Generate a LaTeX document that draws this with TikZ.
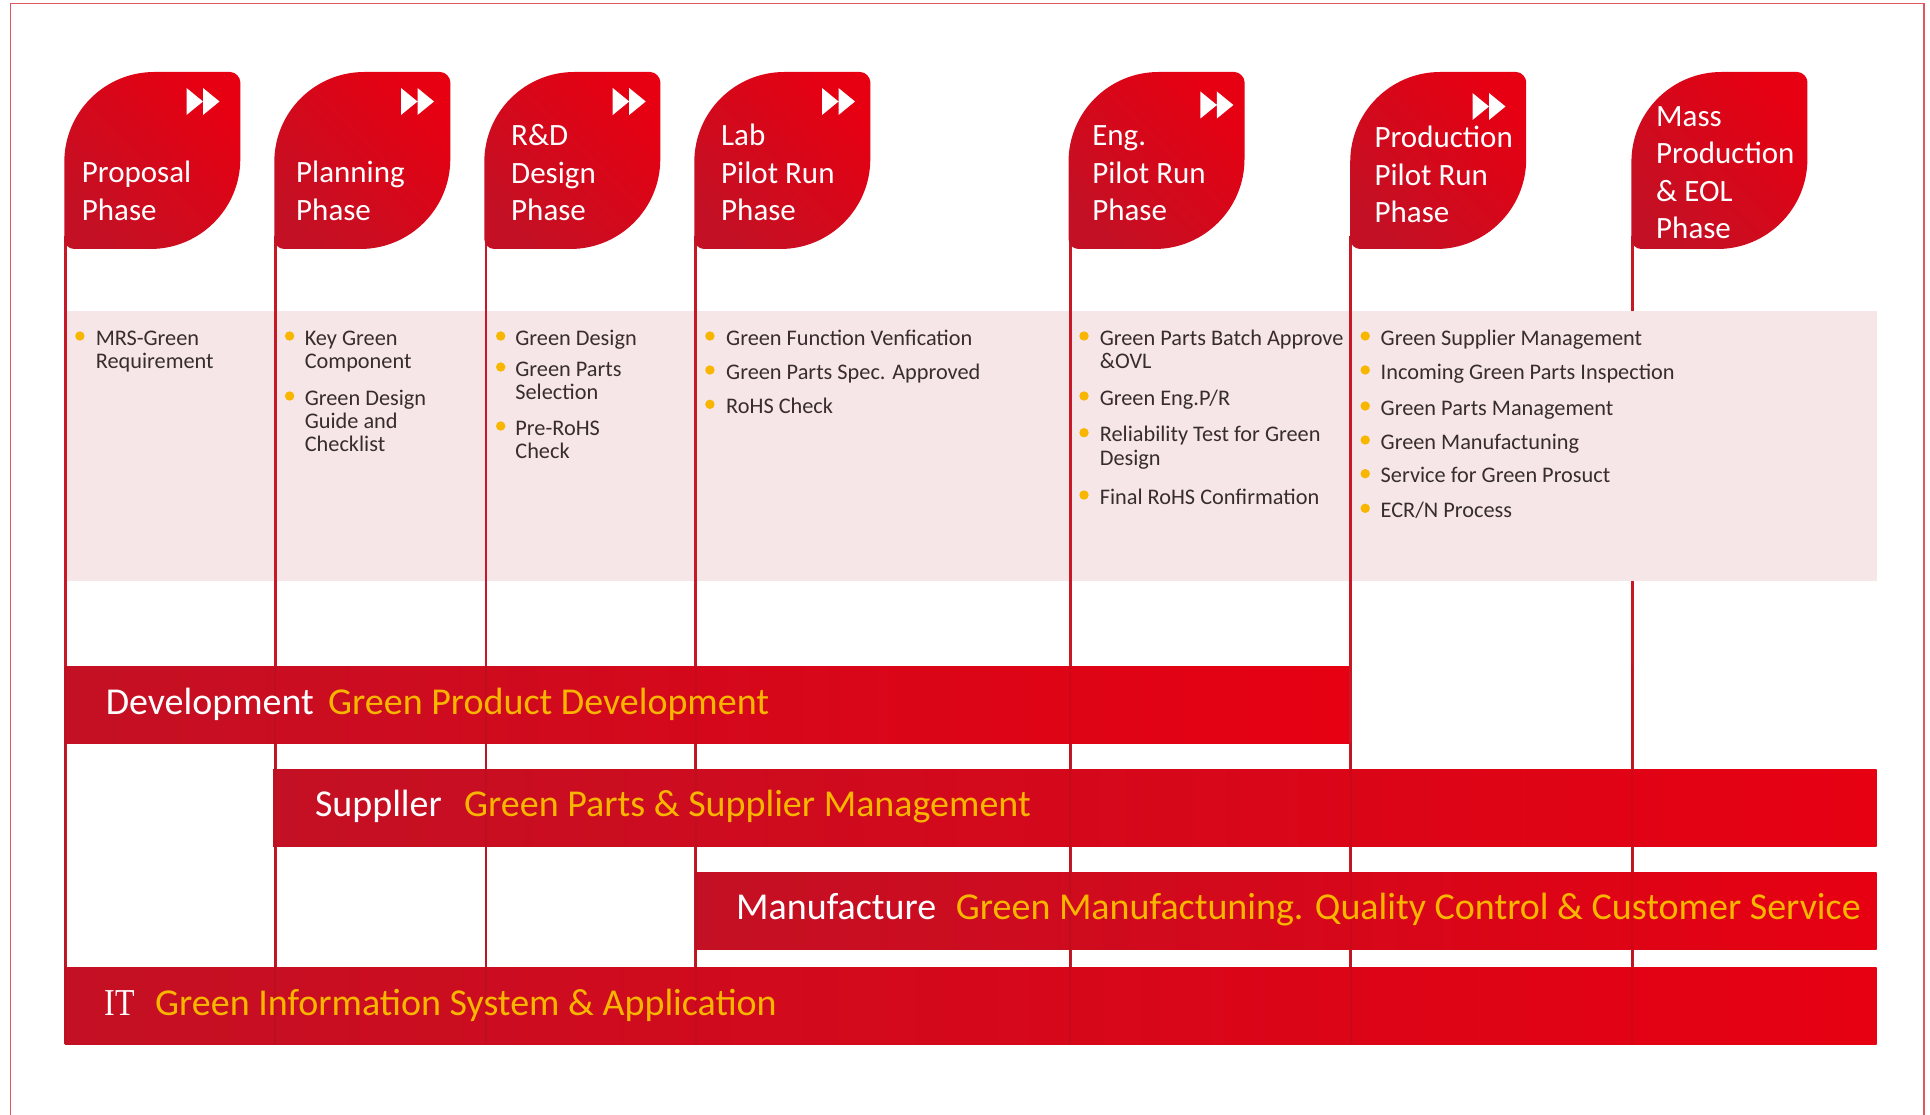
\documentclass[tikz,border=0pt]{standalone}
\usepackage{fontspec}
\usepackage{graphicx}
\setmainfont{Carlito}
\newfontfamily\itfont{Liberation Serif}

\definecolor{barDark}{RGB}{196,16,36}
\definecolor{barBright}{RGB}{230,0,18}
\definecolor{rule}{RGB}{200,24,38}
\definecolor{panel}{RGB}{247,230,232}
\definecolor{gold}{RGB}{248,182,0}
\definecolor{ink}{RGB}{55,45,45}
\definecolor{frame}{RGB}{226,86,96}

% left-aligned stack of lines, baseline at the first line
\newcommand\stackL[1]{\vtop{\halign{##\hfil\cr#1\crcr}}}

% leaf-shaped phase tab, left edge at #1
\newcommand\phaseleaf[1]{%
  \shade[leafshade] (#1,162) .. controls (#1,112.3) and ({#1+40.3},72) .. ({#1+90},72)
    -- ({#1+166},72) .. controls ({#1+171.5},72) and ({#1+176},77.5) .. ({#1+176},82)
    -- ({#1+176},159) .. controls ({#1+176},208.7) and ({#1+135.7},249) .. ({#1+86},249)
    -- ({#1+10},249) .. controls ({#1+4.5},249) and (#1,244.5) .. (#1,239) -- cycle;}

% double "fast forward" triangles, top-left corner at (#1,#2)
\newcommand\fastfwd[2]{%
  \fill[white] (#1,#2) -- ({#1+16.5},{#2+13.5}) -- (#1,{#2+27}) -- cycle
    ({#1+16.5},#2) -- ({#1+33},{#2+13.5}) -- ({#1+16.5},{#2+27}) -- cycle;}

\tikzset{
  leafshade/.style={top color=barBright, bottom color=barDark, shading angle=-45},
  phasetext/.style={anchor=base west, inner sep=0, text=white,
    font=\fontsize{31}{37.3}\selectfont},
  itemtext/.style={anchor=base west, inner sep=0, text=ink,
    font=\fontsize{22.3}{23.3}\selectfont},
  dot/.style={circle, fill=gold, inner sep=0, minimum size=9.4pt},
  barlabel/.style={anchor=base west, inner sep=0, text=white,
    font=\fontsize{38}{40}\selectfont},
  bartitle/.style={anchor=base west, inner sep=0, text=gold,
    font=\fontsize{38}{40}\selectfont},
  stem/.style={draw=rule, line width=2.6pt},
  stemfaint/.style={draw=rule!80!black, line width=2pt, opacity=0.3},
}

\begin{document}
\begin{tikzpicture}[x=1pt, y=-1pt]
\useasboundingbox (0,0) rectangle (1930,1115);

% outer frame
\draw[frame, line width=1.5pt] (10.7,1115) -- (10.7,3.3) -- (1924,3.3) -- (1924,1115);

% activity panel
\fill[panel] (65,311) rectangle (1876.5,581);

% stems of the phases
\foreach \n/\x in {A/65.3, B/275.3, C/486, D/695.7, E/1070.2, F/1350.5, G/1632.3} {
  \coordinate (top\n) at (\x,236);
  \coordinate (bot\n) at (\x,1044);
  \coordinate (bar\n) at (\x,666);
}
\foreach \n in {A,B,C,D,E,F} { \draw[stem] (top\n) -- (bot\n); }
\coordinate (panelTopG) at (1632.3,311);
\coordinate (panelBotG) at (1632.3,581);
\draw[stem] (topG) -- (panelTopG);
\draw[stem] (panelBotG) -- (botG);

% phase tabs
\phaseleaf{64.3}
\phaseleaf{274.3}
\phaseleaf{484.3}
\phaseleaf{694.3}
\phaseleaf{1068.5}
\phaseleaf{1350.2}
\phaseleaf{1631.4}

\fastfwd{186.5}{88}
\fastfwd{401}{88}
\fastfwd{612.7}{88}
\fastfwd{822}{88}
\fastfwd{1200.4}{91.5}
\fastfwd{1472.5}{93}

\node[phasetext] (pProposal) at (81.7,183) {\stackL{Proposal\cr Phase}};
\node[phasetext] (pPlanning) at (296,183) {\stackL{Planning\cr Phase}};
\node[phasetext] (pDesign) at (511,146) {\stackL{R\&D\cr Design\cr Phase}};
\node[phasetext] (pLab) at (721,146) {\stackL{Lab\cr Pilot Run\cr Phase}};
\node[phasetext] (pEng) at (1092.1,146) {\stackL{Eng.\cr Pilot Run\cr Phase}};
\node[phasetext] (pProd) at (1374.4,148) {\stackL{Production\cr Pilot Run\cr Phase}};
\node[phasetext] (pMass) at (1656,126.7) {\stackL{Mass\cr Production\cr \& EOL\cr Phase}};

% activity lists
\node[dot] (d1a) at (79.9,336) {};
\node[itemtext] (t1a) at (95.6,345) {\stackL{MRS-Green\cr Requirement}};

\node[dot] (d2a) at (289.6,336) {};
\node[itemtext] (t2a) at (304.6,345) {\stackL{Key Green\cr Component}};
\node[dot] (d2b) at (289.6,396) {};
\node[itemtext] (t2b) at (304.6,405) {\stackL{Green Design\cr Guide and\cr Checklist}};

\node[dot] (d3a) at (500.7,336) {};
\node[itemtext] (t3a) at (515.2,345) {Green Design};
\node[dot] (d3b) at (500.7,367) {};
\node[itemtext] (t3b) at (515.2,376) {\stackL{Green Parts\cr Selection}};
\node[dot] (d3c) at (500.7,426) {};
\node[itemtext] (t3c) at (515.2,435) {\stackL{Pre-RoHS\cr Check}};

\node[dot] (d4a) at (709.9,336) {};
\node[itemtext] (t4a) at (726,345) {Green Function Venfication};
\node[dot] (d4b) at (709.9,370) {};
\node[itemtext] (t4b) at (726,379) {Green Parts Spec. Approved};
\node[dot] (d4c) at (709.9,404.3) {};
\node[itemtext] (t4c) at (726,413.3) {RoHS Check};

\node[dot] (d5a) at (1084,336) {};
\node[itemtext] (t5a) at (1099.6,345) {\stackL{Green Parts Batch Approve\cr \&OVL}};
\node[dot] (d5b) at (1084,396) {};
\node[itemtext] (t5b) at (1099.6,405) {Green Eng.P/R};
\node[dot] (d5c) at (1084,432.7) {};
\node[itemtext] (t5c) at (1099.6,441.7) {\stackL{Reliability Test for Green\cr Design}};
\node[dot] (d5d) at (1084,495) {};
\node[itemtext] (t5d) at (1099.6,504) {Final RoHS Confirmation};

\node[dot] (d6a) at (1365.2,336) {};
\node[itemtext] (t6a) at (1380.5,345) {Green Supplier Management};
\node[dot] (d6b) at (1365.2,370) {};
\node[itemtext] (t6b) at (1380.5,379) {Incoming Green Parts Inspection};
\node[dot] (d6c) at (1365.2,406) {};
\node[itemtext] (t6c) at (1380.5,415) {Green Parts Management};
\node[dot] (d6d) at (1365.2,440) {};
\node[itemtext] (t6d) at (1380.5,449) {Green Manufactuning};
\node[dot] (d6e) at (1365.2,473.7) {};
\node[itemtext] (t6e) at (1380.5,482.7) {Service for Green Prosuct};
\node[dot] (d6f) at (1365.2,508.3) {};
\node[itemtext] (t6f) at (1380.5,517.3) {ECR/N Process};

% responsibility bars
\shade[left color=barDark, right color=barBright] (65,666) rectangle (1350,743);
\shade[left color=barDark, right color=barBright] (273,769) rectangle (1876.5,846);
\shade[left color=barDark, right color=barBright] (695.3,872) rectangle (1876.5,949);
\shade[left color=barDark, right color=barBright] (65,967) rectangle (1876.5,1044);

% stems showing faintly through the bars
\foreach \n in {A,B,C,D,E,G} { \draw[stemfaint] (bar\n) -- (bot\n); }
\draw[stem] (barF) -- (1350.5,743);
\draw[stemfaint] (1350.5,743) -- (botF);

\node[barlabel] (lDev) at (105.6,714) {Development};
\node[bartitle] (tDev) at (328,714) {Green Product Development};
\node[barlabel] (lSup) at (314.8,816.7) {Suppller};
\node[bartitle] (tSup) at (464,816.7) {Green Parts \& Supplier Management};
\node[barlabel] (lMan) at (736,919) {Manufacture};
\node[bartitle] (tMan) at (955.7,919) {Green Manufactuning. Quality Control \& Customer Service};
\node[barlabel] (lIT) at (104.5,1015.7) {\itfont\scalebox{0.84}[1]{IT}};
\node[bartitle] (tIT) at (155,1015.7) {Green Information System \& Application};
\end{tikzpicture}
\end{document}
